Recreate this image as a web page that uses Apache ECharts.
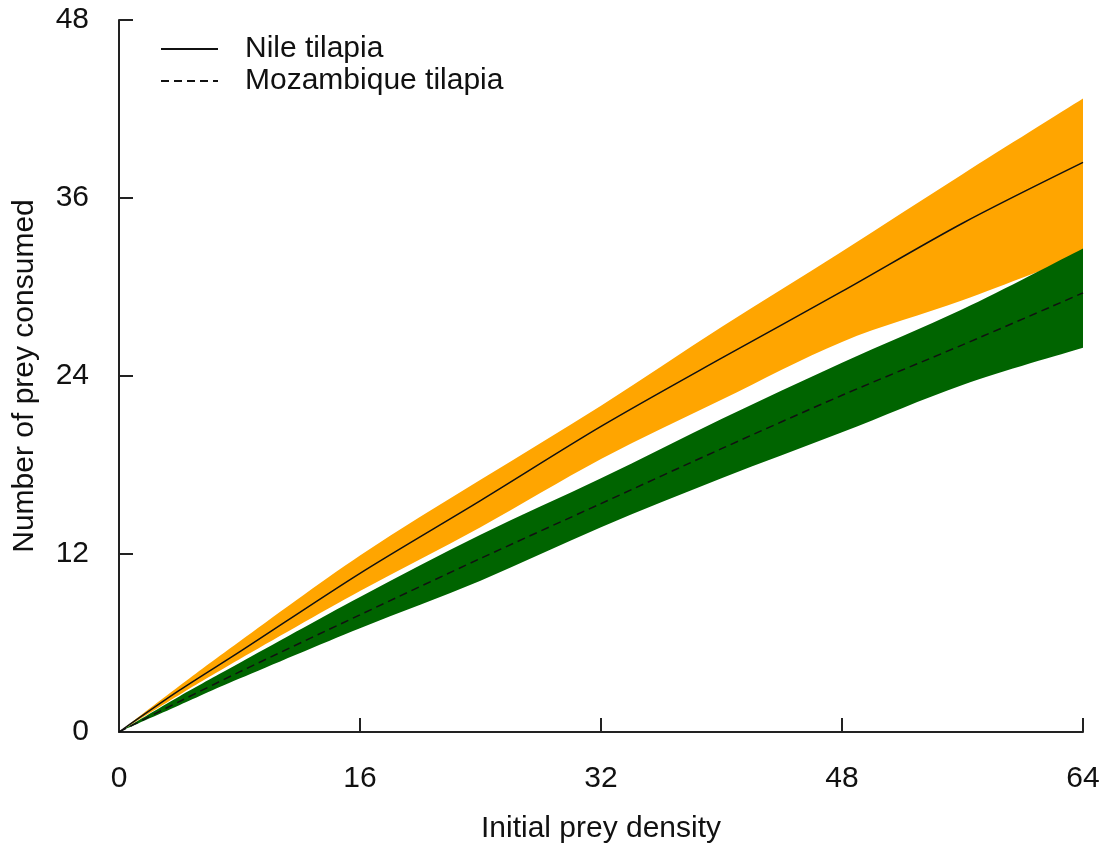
<!DOCTYPE html>
<html>
<head>
<meta charset="utf-8">
<script src="https://cdn.jsdelivr.net/npm/echarts@6/dist/echarts.min.js"></script>
<style>
  html, body { margin: 0; padding: 0; background: #fff; }
  #chart { width: 1105px; height: 846px; }
</style>
</head>
<body>
<div id="chart"></div>
<script>
// Initial prey density (x values)
var density = [0, 4, 8, 16, 24, 32, 40, 48, 56, 64];

// Nile tilapia: fitted curve and credible band
var nileMid   = [0, 2.8, 5.4, 10.7, 15.6, 20.6, 25.2, 29.7, 34.3, 38.4];
var nileUpper = [0, 3.1, 6.1, 11.9, 17.0, 22.0, 27.3, 32.4, 37.6, 42.7];
var nileLower = [0, 2.5, 4.9, 9.5, 13.8, 18.4, 22.4, 26.3, 29.1, 32.2];

// Mozambique tilapia: fitted curve and credible band
var mozMid   = [0, 2.05, 4.05, 7.9, 11.7, 15.4, 19.1, 22.7, 26.1, 29.6];
var mozUpper = [0, 2.4, 4.65, 9.1, 13.3, 17.1, 21.1, 24.9, 28.5, 32.6];
var mozLower = [0, 1.8, 3.6, 7.0, 10.2, 13.8, 17.1, 20.2, 23.4, 25.9];

var xTicks = [0, 16, 32, 48, 64];
var yTicks = [0, 12, 24, 36, 48];

function pairs(xs, ys) {
  return xs.map(function (x, i) { return [x, ys[i]]; });
}

// Catmull-Rom curve through pixel points, emitted as SVG path commands
function curvePath(pts, startCmd) {
  var d = startCmd + pts[0][0] + ',' + pts[0][1];
  for (var i = 0; i < pts.length - 1; i++) {
    var p0 = pts[Math.max(i - 1, 0)], p1 = pts[i], p2 = pts[i + 1], p3 = pts[Math.min(i + 2, pts.length - 1)];
    var c1x = p1[0] + (p2[0] - p0[0]) / 6, c1y = p1[1] + (p2[1] - p0[1]) / 6;
    var c2x = p2[0] - (p3[0] - p1[0]) / 6, c2y = p2[1] - (p3[1] - p1[1]) / 6;
    d += ' C' + c1x + ',' + c1y + ' ' + c2x + ',' + c2y + ' ' + p2[0] + ',' + p2[1];
  }
  return d;
}

// Filled band: upper edge left-to-right, then lower edge back
function bandSeries(upper, lower, color) {
  return {
    type: 'custom',
    coordinateSystem: 'cartesian2d',
    silent: true,
    data: [[0, 0]],
    renderItem: function (params, api) {
      var top = [], bottom = [];
      for (var i = 0; i < density.length; i++) top.push(api.coord([density[i], upper[i]]));
      for (var j = density.length - 1; j >= 0; j--) bottom.push(api.coord([density[j], lower[j]]));
      var d = curvePath(top, 'M') + ' ' + curvePath(bottom, 'L') + ' Z';
      return { type: 'path', shape: { pathData: d }, style: { fill: color, stroke: null } };
    },
    z: 1
  };
}

var font = 'Liberation Sans, Arial, sans-serif';
var axisColor = '#222';
var textColor = '#111';
var fs = 30;

var chart = echarts.init(document.getElementById('chart'), null, { renderer: 'canvas' });
chart.setOption({
  animation: false,
  backgroundColor: '#fff',
  textStyle: { fontFamily: font },
  grid: { left: 119, right: 22, top: 20, bottom: 114, containLabel: false, outerBoundsMode: 'none' },
  legend: {
    data: ['Nile tilapia', 'Mozambique tilapia'],
    orient: 'vertical',
    left: 160,
    top: 34,
    padding: 0,
    itemWidth: 57,
    itemHeight: 14,
    itemGap: 2,
    itemStyle: { opacity: 0 },
    textStyle: { fontFamily: font, fontSize: fs, color: textColor, padding: [0, 0, 0, 22], lineHeight: 30 }
  },
  xAxis: {
    type: 'value',
    min: 0, max: 64, interval: 16,
    name: 'Initial prey density',
    nameLocation: 'middle',
    nameGap: 82,
    nameTextStyle: { fontFamily: font, fontSize: fs, color: textColor },
    axisLine: { show: true, lineStyle: { color: axisColor, width: 2 } },
    axisTick: { show: true, inside: true, length: 14, lineStyle: { color: axisColor, width: 2 } },
    axisLabel: { fontFamily: font, fontSize: fs, color: textColor, margin: 32,
      formatter: function (v) { return xTicks.indexOf(v) >= 0 ? String(v) : ''; } },
    splitLine: { show: false }
  },
  yAxis: {
    type: 'value',
    min: 0, max: 48, interval: 12,
    name: 'Number of prey consumed',
    nameLocation: 'middle',
    nameGap: 79,
    nameTextStyle: { fontFamily: font, fontSize: fs, color: textColor },
    axisLine: { show: true, lineStyle: { color: axisColor, width: 2 } },
    axisTick: { show: true, inside: true, length: 14, lineStyle: { color: axisColor, width: 2 } },
    axisLabel: { fontFamily: font, fontSize: fs, color: textColor, margin: 30, padding: [6, 0, 0, 0],
      formatter: function (v) { return yTicks.indexOf(v) >= 0 ? String(v) : ''; } },
    splitLine: { show: false }
  },
  series: [
    bandSeries(nileUpper, nileLower, '#FFA500'),
    bandSeries(mozUpper, mozLower, '#006400'),
    {
      name: 'Nile tilapia',
      type: 'line',
      data: pairs(density, nileMid),
      symbol: 'none',
      showSymbol: false,
      smooth: 0.3,
      lineStyle: { color: textColor, width: 1.5, type: 'solid' },
      itemStyle: { color: textColor },
      z: 3
    },
    {
      name: 'Mozambique tilapia',
      type: 'line',
      data: pairs(density, mozMid),
      symbol: 'none',
      showSymbol: false,
      smooth: 0.3,
      lineStyle: { color: textColor, width: 1.5, type: [8, 5] },
      itemStyle: { color: textColor },
      z: 3
    }
  ]
});
</script>
</body>
</html>
